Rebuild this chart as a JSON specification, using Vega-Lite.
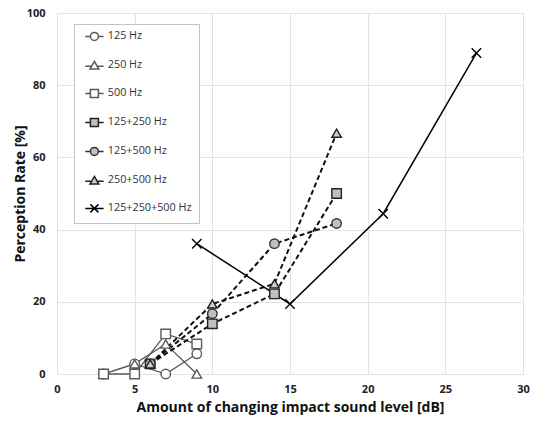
{
  "$schema": "https://vega.github.io/schema/vega-lite/v6.json",
  "width": 466,
  "height": 361,
  "autosize": {"type": "none"},
  "padding": {"left": 57, "top": 13, "right": 11, "bottom": 47},
  "background": "white",
  "config": {
    "view": {"stroke": "#d9d9d9", "strokeWidth": 1},
    "font": "Open Sans"
  },
  "data": {
    "values": [
      {"series": "125 Hz", "group": "single", "x": 3, "y": 0},
      {"series": "125 Hz", "group": "single", "x": 5, "y": 2.8},
      {"series": "125 Hz", "group": "single", "x": 7, "y": 0},
      {"series": "125 Hz", "group": "single", "x": 9, "y": 5.6},
      {"series": "250 Hz", "group": "single", "x": 3, "y": 0},
      {"series": "250 Hz", "group": "single", "x": 5, "y": 2.8},
      {"series": "250 Hz", "group": "single", "x": 7, "y": 8.3},
      {"series": "250 Hz", "group": "single", "x": 9, "y": 0},
      {"series": "500 Hz", "group": "single", "x": 3, "y": 0},
      {"series": "500 Hz", "group": "single", "x": 5, "y": 0},
      {"series": "500 Hz", "group": "single", "x": 7, "y": 11.1},
      {"series": "500 Hz", "group": "single", "x": 9, "y": 8.3},
      {"series": "125+250 Hz", "group": "pair", "x": 6, "y": 2.8},
      {"series": "125+250 Hz", "group": "pair", "x": 10, "y": 13.9},
      {"series": "125+250 Hz", "group": "pair", "x": 14, "y": 22.2},
      {"series": "125+250 Hz", "group": "pair", "x": 18, "y": 50},
      {"series": "125+500 Hz", "group": "pair", "x": 6, "y": 2.8},
      {"series": "125+500 Hz", "group": "pair", "x": 10, "y": 16.7},
      {"series": "125+500 Hz", "group": "pair", "x": 14, "y": 36.1},
      {"series": "125+500 Hz", "group": "pair", "x": 18, "y": 41.7},
      {"series": "250+500 Hz", "group": "pair", "x": 6, "y": 2.8},
      {"series": "250+500 Hz", "group": "pair", "x": 10, "y": 19.4},
      {"series": "250+500 Hz", "group": "pair", "x": 14, "y": 25},
      {"series": "250+500 Hz", "group": "pair", "x": 18, "y": 66.7},
      {"series": "125+250+500 Hz", "group": "triple", "x": 9, "y": 36.1},
      {"series": "125+250+500 Hz", "group": "triple", "x": 15, "y": 19.4},
      {"series": "125+250+500 Hz", "group": "triple", "x": 21, "y": 44.4},
      {"series": "125+250+500 Hz", "group": "triple", "x": 27, "y": 88.9}
    ]
  },
  "encoding": {
    "x": {
      "field": "x", "type": "quantitative",
      "scale": {"domain": [0, 30], "nice": false},
      "axis": {
        "values": [0, 5, 10, 15, 20, 25, 30],
        "title": "Amount of changing impact sound level [dB]",
        "domain": false, "ticks": false,
        "gridColor": "#e3e3e3",
        "labelFont": "Open Sans", "labelFontWeight": "bold", "labelFontSize": 11, "labelColor": "#222",
        "labelPadding": 9, "labelFlush": false,
        "titleFont": "Open Sans", "titleFontWeight": "bold", "titleFontSize": 14, "titleColor": "#111",
        "titleBaseline": "alphabetic", "titleY": 37
      }
    },
    "y": {
      "field": "y", "type": "quantitative",
      "scale": {"domain": [0, 100], "nice": false},
      "axis": {
        "values": [0, 20, 40, 60, 80, 100],
        "title": "Perception Rate [%]",
        "domain": false, "ticks": false,
        "gridColor": "#e3e3e3",
        "labelFont": "Open Sans", "labelFontWeight": "bold", "labelFontSize": 11, "labelColor": "#222",
        "labelPadding": 12, "labelFlush": false,
        "titleFont": "Open Sans", "titleFontWeight": "bold", "titleFontSize": 14, "titleColor": "#111",
        "titleX": -30
      }
    }
  },
  "layer": [
    {
      "transform": [{"filter": "datum.group == 'single'"}],
      "mark": {"type": "line", "interpolate": "linear", "stroke": "#5a5a5a", "strokeWidth": 1.3},
      "encoding": {"detail": {"field": "series"}}
    },
    {
      "transform": [{"filter": "datum.group == 'pair'"}],
      "mark": {"type": "line", "interpolate": "linear", "stroke": "#111111", "strokeWidth": 2, "strokeDash": [5, 3]},
      "encoding": {"detail": {"field": "series"}}
    },
    {
      "transform": [{"filter": "datum.group == 'triple'"}],
      "mark": {"type": "line", "interpolate": "linear", "stroke": "#000000", "strokeWidth": 1.5},
      "encoding": {"detail": {"field": "series"}}
    },
    {
      "mark": {"type": "point", "filled": false, "size": 0, "opacity": 1, "strokeWidth": 1.6},
      "encoding": {
        "stroke": {
          "field": "series", "type": "nominal",
          "scale": {
            "domain": ["125 Hz", "250 Hz", "500 Hz", "125+250 Hz", "125+500 Hz", "250+500 Hz", "125+250+500 Hz"],
            "range": ["#5a5a5a", "#5a5a5a", "#5a5a5a", "#222222", "#333333", "#222222", "#000000"]
          },
          "legend": {
            "orient": "none", "legendX": 17, "legendY": 11,
            "title": null,
            "padding": 7,
            "strokeColor": "#c4c4c4",
            "fillColor": "#ffffff",
            "symbolSize": 64,
            "symbolOffset": 8,
            "labelOffset": 8,
            "rowPadding": 14,
            "labelFont": "Open Sans", "labelFontSize": 10.8, "labelColor": "#333333"
          }
        },
        "shape": {
          "field": "series", "type": "nominal",
          "scale": {
            "domain": ["125 Hz", "250 Hz", "500 Hz", "125+250 Hz", "125+500 Hz", "250+500 Hz", "125+250+500 Hz"],
            "range": [
              "M-2.3,0H-1M1,0H2.3M1,0A1,1 0 1,1 -1,0A1,1 0 1,1 1,0",
              "M-2.3,0.2H-0.85M0.85,0.2H2.3M0,-1L1.1,0.9L-1.1,0.9Z",
              "M-2.3,0H-1M1,0H2.3M-1,-1H1V1H-1Z",
              "M-2.3,0H-1M1,0H2.3M-1,-1H1V1H-1Z",
              "M-2.3,0H-1M1,0H2.3M1,0A1,1 0 1,1 -1,0A1,1 0 1,1 1,0",
              "M-2.3,0.2H-0.85M0.85,0.2H2.3M0,-1L1.1,0.9L-1.1,0.9Z",
              "M-2.3,0H2.3M-1,-1L1,1M-1,1L1,-1"
            ]
          }
        },
        "fill": {
          "field": "series", "type": "nominal",
          "scale": {
            "domain": ["125 Hz", "250 Hz", "500 Hz", "125+250 Hz", "125+500 Hz", "250+500 Hz", "125+250+500 Hz"],
            "range": ["#ffffff", "#ffffff", "#ffffff", "#bfbfbf", "#bfbfbf", "#cccccc", "transparent"]
          }
        }
      }
    },
    {
      "mark": {"type": "point", "filled": false, "size": 90, "opacity": 1, "strokeWidth": 1.4},
      "encoding": {
        "stroke": {
          "field": "series", "type": "nominal", "legend": null,
          "scale": {
            "domain": ["125 Hz", "250 Hz", "500 Hz", "125+250 Hz", "125+500 Hz", "250+500 Hz", "125+250+500 Hz"],
            "range": ["#5a5a5a", "#5a5a5a", "#5a5a5a", "#222222", "#333333", "#222222", "#000000"]
          }
        },
        "shape": {
          "field": "series", "type": "nominal", "legend": null,
          "scale": {
            "domain": ["125 Hz", "250 Hz", "500 Hz", "125+250 Hz", "125+500 Hz", "250+500 Hz", "125+250+500 Hz"],
            "range": ["circle", "triangle-up", "square", "square", "circle", "triangle-up", "M-1,-1L1,1M-1,1L1,-1"]
          }
        },
        "fill": {
          "field": "series", "type": "nominal", "legend": null,
          "scale": {
            "domain": ["125 Hz", "250 Hz", "500 Hz", "125+250 Hz", "125+500 Hz", "250+500 Hz", "125+250+500 Hz"],
            "range": ["#ffffff", "#ffffff", "#ffffff", "#bfbfbf", "#bfbfbf", "#cccccc", "transparent"]
          }
        }
      }
    }
  ],
  "resolve": {"scale": {"shape": "independent", "stroke": "independent", "fill": "independent"}}
}
